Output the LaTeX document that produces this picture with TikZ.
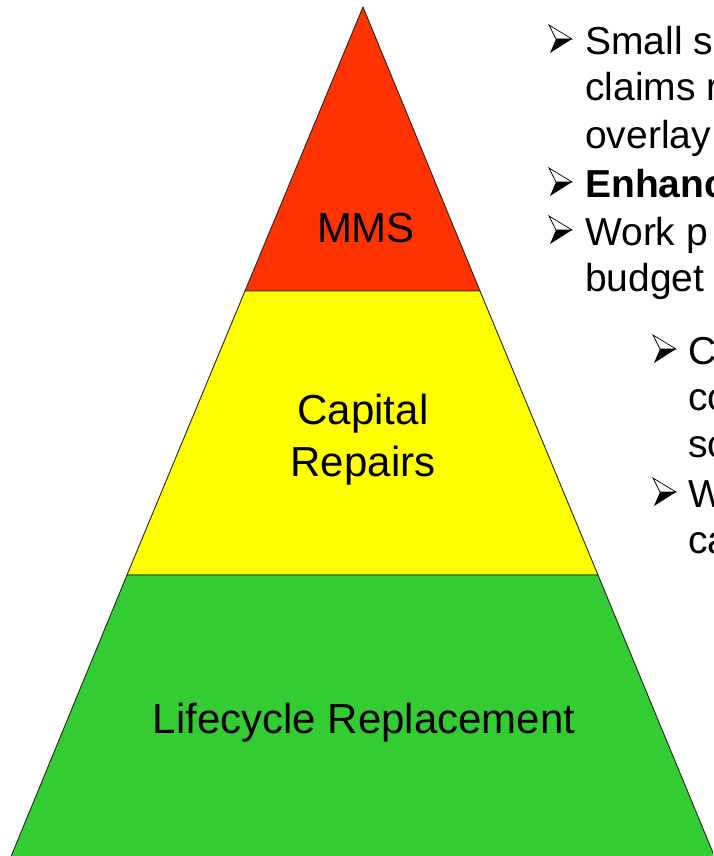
\documentclass[tikz,border=0pt]{standalone}
\usepackage{fontspec}
\setmainfont{Liberation Sans}
\usetikzlibrary{positioning}

\definecolor{mmsred}{HTML}{FF3300}
\definecolor{repairyellow}{HTML}{FFFF00}
\definecolor{lifegreen}{HTML}{33CC33}

\tikzset{
  tier/.style={draw=black!85, line width=0.9pt, line join=miter},
  tierlabel/.style={font=\fontsize{42}{52}\selectfont, align=center, inner sep=0pt},
  pointtext/.style={font=\fontsize{39}{47}\selectfont, anchor=base west, inner sep=0pt},
  pics/pointmark/.style={code={
    \filldraw[fill=white, draw=black, line width=0.7pt, line join=miter]
      (0,0) -- (23,14) -- (7,14) -- cycle;
    \fill[black] (7,14) -- (23,14) -- (1,28) -- cycle;
  }}
}

\begin{document}
\begin{tikzpicture}[x=1pt,y=-1pt]
  \useasboundingbox (0,0) rectangle (713,856);
  \clip (0,0) rectangle (713,856);

  % pyramid
  \coordinate (apex) at (363,7);
  \coordinate (ml) at (245,291);
  \coordinate (mr) at (480,291);
  \coordinate (cl) at (127,575);
  \coordinate (cr) at (598,575);
  \coordinate (bl) at (9.6,860);
  \coordinate (br) at (716,860);
  \filldraw[tier, fill=mmsred] (apex) -- (mr) -- (ml) -- cycle;
  \filldraw[tier, fill=repairyellow] (ml) -- (mr) -- (cr) -- (cl) -- cycle;
  \filldraw[tier, fill=lifegreen] (cl) -- (cr) -- (br) -- (bl) -- cycle;

  \node[tierlabel, anchor=base] (mms) at (366,242) {MMS};
  \node[tierlabel] (repairs) at (363,440) {Capital\\Repairs};
  \node[tierlabel, anchor=base] (lifecycle) at (364,733) {Lifecycle Replacement};

  % points
  \pic (m1) at (549,25) {pointmark};
  \node[pointtext] (t1) at (585,55) {Small s};
  \node[pointtext] (t1b) at (585,101) {claims r};
  \node[pointtext] (t1c) at (585,148) {overlay};
  \pic (m2) at (549,168) {pointmark};
  \node[pointtext] (t2) at (585,197) {\bfseries Enhanc};
  \pic (m3) at (549,216) {pointmark};
  \node[pointtext] (t3) at (585,245) {Work p};
  \node[pointtext] (t3b) at (585,291) {budget};

  \pic (m4) at (653,335) {pointmark};
  \node[pointtext] (t4) at (688,364) {C};
  \node[pointtext] (t4b) at (688,410) {co};
  \node[pointtext] (t4c) at (688,457) {sc};
  \pic (m5) at (653,478) {pointmark};
  \node[pointtext] (t5) at (688,507) {W};
  \node[pointtext] (t5b) at (688,553) {ca};
\end{tikzpicture}
\end{document}
